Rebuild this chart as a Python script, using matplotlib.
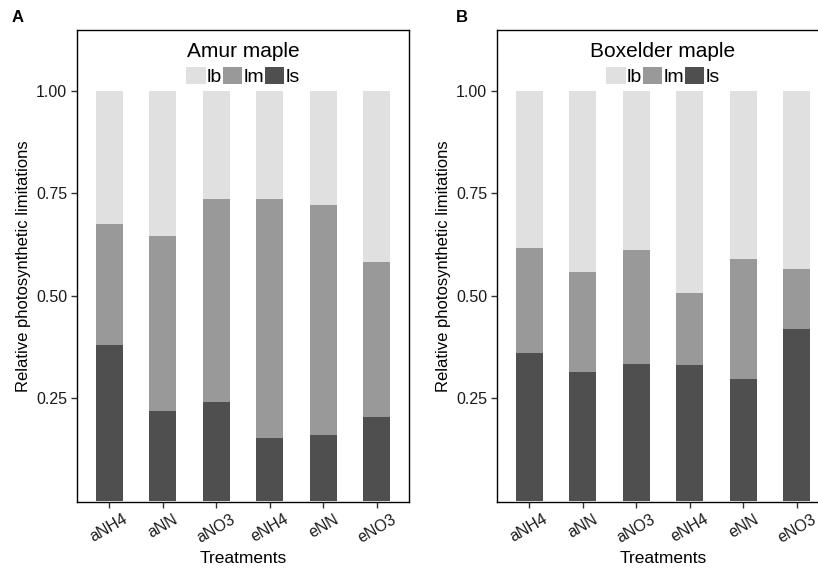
import numpy as np
import matplotlib
matplotlib.use("Agg")
import matplotlib.pyplot as plt
import matplotlib.patches as mpatches

plt.rcParams["font.family"] = ["Liberation Sans", "DejaVu Sans"]

# ─────────────────────────────────────────────────────────────────────────────
#  DATA
# ─────────────────────────────────────────────────────────────────────────────

treatments = ["aNH4", "aNN", "aNO3", "eNH4", "eNN", "eNO3"]

# Amur maple
amur_ls = [0.381, 0.220, 0.242, 0.152, 0.160, 0.204]
amur_lm = [0.294, 0.427, 0.494, 0.585, 0.562, 0.379]
amur_lb = [0.325, 0.353, 0.264, 0.263, 0.278, 0.417]

# Boxelder maple
box_ls = [0.360, 0.315, 0.335, 0.331, 0.298, 0.419]
box_lm = [0.256, 0.243, 0.276, 0.177, 0.292, 0.147]
box_lb = [0.384, 0.442, 0.389, 0.492, 0.410, 0.434]

COL_LB = "#e0e0e0"
COL_LM = "#999999"
COL_LS = "#4f4f4f"


def draw_panel(ax, title, ls, lm, lb):

    x = np.arange(1, len(treatments) + 1)
    ls = np.array(ls)
    lm = np.array(lm)
    lb = np.array(lb)

    ax.bar(x, ls, width=0.5, color=COL_LS, edgecolor="none")
    ax.bar(x, lm, width=0.5, bottom=ls, color=COL_LM, edgecolor="none")
    ax.bar(x, lb, width=0.5, bottom=ls + lm, color=COL_LB, edgecolor="none")

    ax.set_xlim(0.4, 6.6)
    ax.set_ylim(-0.003, 1.149)
    ax.set_yticks([0.25, 0.50, 0.75, 1.00])
    ax.set_yticklabels(["0.25", "0.50", "0.75", "1.00"], fontsize=11.5)
    ax.set_xticks(x)
    ax.set_xticklabels(treatments, fontsize=11.5, rotation=30,
                       ha="center", va="top")
    ax.tick_params(direction="out", length=4, width=1, color="#333333",
                   labelcolor="#1a1a1a", pad=3)

    for sp in ax.spines.values():
        sp.set_linewidth(1.0)
        sp.set_color("black")

    ax.set_xlabel("Treatments", fontsize=12.5, labelpad=4)
    ax.set_ylabel("Relative photosynthetic limitations", fontsize=12, labelpad=4)

    ax.text(0.5, 0.975, title, transform=ax.transAxes,
            ha="center", va="top", fontsize=15)

    handles = [
        mpatches.Patch(facecolor=COL_LB, edgecolor="none", label="lb"),
        mpatches.Patch(facecolor=COL_LM, edgecolor="none", label="lm"),
        mpatches.Patch(facecolor=COL_LS, edgecolor="none", label="ls"),
    ]
    ax.legend(handles=handles, ncol=3, loc="upper center",
              bbox_to_anchor=(0.5, 0.947), frameon=False,
              fontsize=14, handlelength=1.0, handleheight=1.0,
              handletextpad=0.05, columnspacing=0.05, borderpad=0.1)


fig = plt.figure(figsize=(8.18, 5.69), dpi=100)

ax_a = fig.add_axes([77 / 818, 67 / 569, 332 / 818, 472 / 569])
ax_b = fig.add_axes([497 / 818, 67 / 569, 332 / 818, 472 / 569])

draw_panel(ax_a, "Amur maple", amur_ls, amur_lm, amur_lb)
draw_panel(ax_b, "Boxelder maple", box_ls, box_lm, box_lb)

fig.text(12 / 818, 1 - 10 / 569, "A", fontsize=12, fontweight="bold",
         ha="left", va="top")
fig.text(456 / 818, 1 - 10 / 569, "B", fontsize=12, fontweight="bold",
         ha="left", va="top")

fig.savefig("out.png", dpi=100)
